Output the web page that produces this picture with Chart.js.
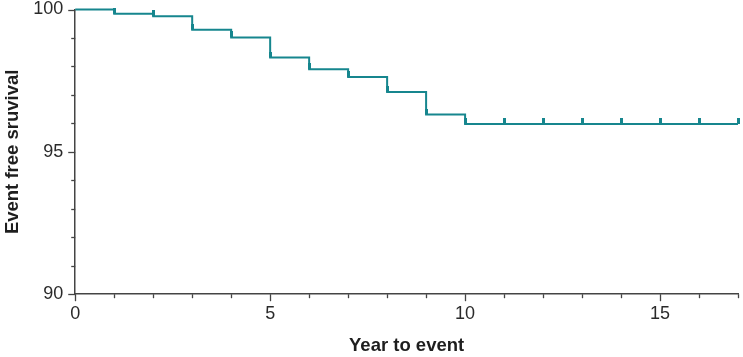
<!DOCTYPE html>
<html>
<head>
<meta charset="utf-8">
<script src="https://cdn.jsdelivr.net/npm/chart.js@4/dist/chart.umd.min.js"></script>
<style>
  html, body { margin: 0; padding: 0; background: #fff; }
  #wrap { width: 743px; height: 357px; position: relative; }
</style>
</head>
<body>
<div id="wrap"><canvas id="c" width="743" height="357"></canvas></div>
<script>
// Kaplan-Meier step data (time in years, survival %)
const stepYears = [0, 1, 2, 3, 4, 5, 6, 7, 8, 9, 10, 17];
const survival  = [100, 99.85, 99.76, 99.29, 99.02, 98.31, 97.90, 97.63, 97.10, 96.31, 95.98, 95.98];
// censoring marks (years)
const censorYears = [1, 2, 3, 4, 5, 6, 7, 8, 9, 10, 11, 12, 13, 14, 15, 16, 17];
// labelled ticks
const xTickLabels = [0, 5, 10, 15];
const yTickLabels = [90, 95, 100];

const teal = '#16868e';
const axisColor = '#444444';

function survivalAt(t) {
  let v = survival[0];
  for (let i = 0; i < stepYears.length; i++) if (stepYears[i] <= t) v = survival[i];
  return v;
}

const censorImg = document.createElement('canvas');
censorImg.width = 3; censorImg.height = 12;
(function(){ const g = censorImg.getContext('2d'); g.fillStyle = teal; g.fillRect(0, 0, 3, 6); })();

const tickPlugin = {
  id: 'customTicks',
  afterDraw(chart) {
    const ctx = chart.ctx;
    const xs = chart.scales.x, ys = chart.scales.y;
    ctx.save();
    ctx.strokeStyle = axisColor;
    ctx.lineWidth = 1.3;
    for (let v = xs.min; v <= xs.max; v++) {
      const px = Math.round(xs.getPixelForValue(v)) + 0.5;
      const len = xTickLabels.includes(v) ? 7 : 4;
      ctx.beginPath(); ctx.moveTo(px, xs.top); ctx.lineTo(px, xs.top + len); ctx.stroke();
    }
    for (let v = ys.min; v <= ys.max; v++) {
      const py = Math.round(ys.getPixelForValue(v)) + 0.5;
      const len = yTickLabels.includes(v) ? 7 : 4;
      ctx.beginPath(); ctx.moveTo(ys.right, py); ctx.lineTo(ys.right - len, py); ctx.stroke();
    }
    ctx.restore();
  }
};

new Chart(document.getElementById('c'), {
  type: 'line',
  data: {
    datasets: [
      {
        data: stepYears.map((x, i) => ({ x, y: survival[i] })),
        borderColor: teal,
        borderWidth: 2,
        stepped: 'before',
        pointRadius: 0,
        fill: false,
        clip: false
      },
      {
        type: 'scatter',
        data: censorYears.map(x => ({ x, y: survivalAt(x) })),
        pointStyle: censorImg,
        pointRadius: 3,
        showLine: false,
        clip: false
      }
    ]
  },
  options: {
    responsive: false,
    animation: false,
    devicePixelRatio: 1,
    layout: { padding: { top: 0, right: 2, left: 2, bottom: 0 } },
    plugins: { legend: { display: false }, tooltip: { enabled: false } },
    scales: {
      x: {
        type: 'linear',
        min: 0, max: 17,
        border: { display: true, color: axisColor, width: 1.5 },
        grid: { display: true, drawOnChartArea: false, drawTicks: true, tickLength: 7, color: 'rgba(0,0,0,0)' },
        ticks: {
          stepSize: 1,
          autoSkip: false,
          maxRotation: 0,
          padding: 2,
          color: '#2a2a2a',
          font: { family: 'Liberation Sans', size: 18 },
          callback: v => xTickLabels.includes(v) ? String(v) : ''
        },
        title: {
          display: true, text: 'Year to event', color: '#1e1e1e',
          font: { family: 'Liberation Sans', size: 18.5, weight: 'bold' },
          padding: { top: 8, bottom: 0 }
        }
      },
      y: {
        min: 90, max: 100,
        border: { display: true, color: axisColor, width: 1.5 },
        grid: { display: true, drawOnChartArea: false, drawTicks: true, tickLength: 7, color: 'rgba(0,0,0,0)' },
        ticks: {
          stepSize: 1,
          autoSkip: false,
          padding: 5,
          color: '#2a2a2a',
          font: { family: 'Liberation Sans', size: 18, lineHeight: 0.5 },
          callback: v => yTickLabels.includes(v) ? String(v) : ''
        },
        title: {
          display: true, text: 'Event free sruvival', color: '#1e1e1e',
          font: { family: 'Liberation Sans', size: 18.5, weight: 'bold' },
          padding: { top: 0, bottom: 4 }
        }
      }
    }
  },
  plugins: [tickPlugin]
});
</script>
</body>
</html>
